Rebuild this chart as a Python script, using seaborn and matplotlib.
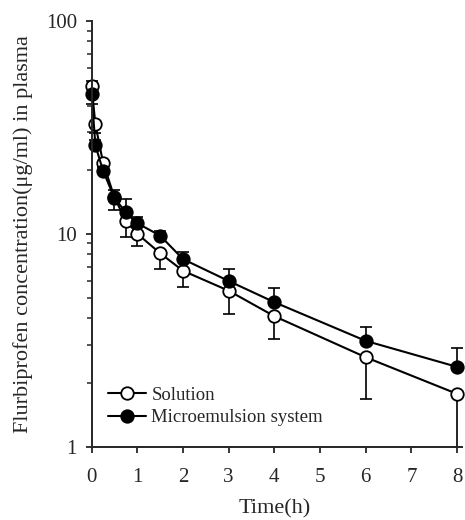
import pandas as pd
import matplotlib
matplotlib.use('Agg')
import matplotlib.pyplot as plt
import matplotlib.ticker as mticker
import seaborn as sns

# time points (h)
time_h = [0, 0.083, 0.25, 0.5, 0.75, 1, 1.5, 2, 3, 4, 6, 8]

# Solution (open circles), mean and error bars
solution = [49.2, 32.6, 21.6, 14.8, 11.5, 10.0, 8.1, 6.7, 5.4, 4.1, 2.63, 1.77]
solution_err_low = [0, 2.8, 1.0, 1.9, 1.8, 1.2, 1.3, 1.1, 1.2, 0.9, 0.95, 0.77]
solution_err_high = [3.1, 0, 0, 0, 0, 0, 0, 0, 0, 0, 0, 0]

# Microemulsion system (filled circles)
microemulsion = [45.5, 26.0, 19.8, 14.7, 12.6, 11.2, 9.8, 7.6, 6.0, 4.77, 3.14, 2.37]
micro_err_low = [4.7, 0, 0, 0, 0, 0, 0, 0, 0, 0, 0, 0]
micro_err_high = [0, 1.5, 1.0, 1.4, 1.9, 0.8, 0.5, 0.6, 0.8, 0.8, 0.5, 0.55]

df_sol = pd.DataFrame({'Time': time_h, 'Conc': solution})
df_me = pd.DataFrame({'Time': time_h, 'Conc': microemulsion})

sns.set_style('ticks')
plt.rcParams['font.family'] = ['Liberation Serif', 'DejaVu Serif']

fig = plt.figure(figsize=(4.65, 5.2), dpi=100)
ax = fig.add_axes([0.197, 0.141, 0.786, 0.819])

# error bars first so the markers sit on top
ax.errorbar(time_h, solution, yerr=[solution_err_low, solution_err_high], fmt='none',
            ecolor='black', elinewidth=1.2, capsize=4, capthick=1.2, zorder=2)
ax.errorbar(time_h, microemulsion, yerr=[micro_err_low, micro_err_high], fmt='none',
            ecolor='black', elinewidth=1.2, capsize=4, capthick=1.2, zorder=2)

sns.lineplot(data=df_sol, x='Time', y='Conc', ax=ax, color='black', linewidth=1.5,
             marker='o', markersize=9, markerfacecolor='white', markeredgecolor='black',
             markeredgewidth=1.3, label='Solution', zorder=3)
sns.lineplot(data=df_me, x='Time', y='Conc', ax=ax, color='black', linewidth=1.5,
             marker='o', markersize=9, markerfacecolor='black', markeredgecolor='black',
             markeredgewidth=1.3, label='Microemulsion system', zorder=4)

ax.set_yscale('log')
ax.set_ylim(1, 100)
ax.set_xlim(0, 8)
ax.set_xticks(range(0, 9))
ax.yaxis.set_major_locator(mticker.FixedLocator([1, 10, 100]))
ax.yaxis.set_major_formatter(mticker.FixedFormatter(['1', '10', '100']))
ax.yaxis.set_minor_locator(mticker.LogLocator(base=10, subs=range(2, 10)))
ax.yaxis.set_minor_formatter(mticker.NullFormatter())

ax.set_xlabel('Time(h)', fontsize=16, labelpad=9)
ax.set_ylabel('Flurbiprofen concentration(μg/ml) in plasma', fontsize=16, labelpad=9)
ax.tick_params(axis='both', which='major', labelsize=15, length=4.5, width=1.3)
ax.tick_params(axis='x', which='major', pad=11)
ax.tick_params(axis='y', which='major', pad=6)
ax.tick_params(axis='y', which='minor', length=3.5, width=1.1)

for side in ['left', 'bottom']:
    ax.spines[side].set_linewidth(1.4)
    ax.spines[side].set_zorder(5)
sns.despine(ax=ax)
ax.patch.set_alpha(0)
for a in ax.get_children():
    try:
        a.set_clip_on(False)
    except Exception:
        pass

ax.legend(loc='lower left', bbox_to_anchor=(0.025, 0.03), frameon=False, fontsize=13.5,
          handlelength=2.0, handletextpad=0.3, labelspacing=0.3, borderaxespad=0)

fig.savefig('out.png', dpi=100)
